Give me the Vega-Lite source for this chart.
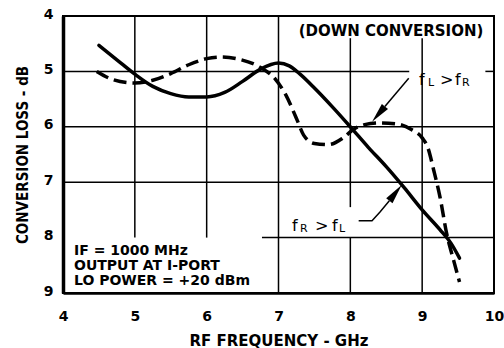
{
  "$schema": "https://vega.github.io/schema/vega-lite/v6.json",
  "width": 431,
  "height": 277,
  "autosize": "none",
  "padding": {"left": 63, "top": 16, "right": 10, "bottom": 55},
  "background": "white",
  "config": {
    "view": {"stroke": "black", "strokeWidth": 2},
    "font": "DejaVu Sans"
  },
  "datasets": {
    "grid": [
      {"x": 5, "x2": 5, "y": 4, "y2": 8},
      {"x": 6, "x2": 6, "y": 4, "y2": 8},
      {"x": 7, "x2": 7, "y": 4, "y2": 9},
      {"x": 8, "x2": 8, "y": 4.4, "y2": 7.45},
      {"x": 8, "x2": 8, "y": 8, "y2": 9},
      {"x": 9, "x2": 9, "y": 4.4, "y2": 9},
      {"x": 4, "x2": 8.82, "y": 5, "y2": 5},
      {"x": 9.88, "x2": 10, "y": 5, "y2": 5},
      {"x": 4, "x2": 10, "y": 6, "y2": 6},
      {"x": 4, "x2": 10, "y": 7, "y2": 7},
      {"x": 6.77, "x2": 10, "y": 8, "y2": 8}
    ],
    "curves": [
      {"series": "fR>fL", "f": 4.5, "loss": 4.53},
      {"series": "fR>fL", "f": 4.75, "loss": 4.79},
      {"series": "fR>fL", "f": 5.0, "loss": 5.05},
      {"series": "fR>fL", "f": 5.25, "loss": 5.27},
      {"series": "fR>fL", "f": 5.5, "loss": 5.4},
      {"series": "fR>fL", "f": 5.75, "loss": 5.46},
      {"series": "fR>fL", "f": 6.0, "loss": 5.46},
      {"series": "fR>fL", "f": 6.25, "loss": 5.38},
      {"series": "fR>fL", "f": 6.5, "loss": 5.18},
      {"series": "fR>fL", "f": 6.75, "loss": 4.96},
      {"series": "fR>fL", "f": 7.0, "loss": 4.85},
      {"series": "fR>fL", "f": 7.15, "loss": 4.9},
      {"series": "fR>fL", "f": 7.3, "loss": 5.05},
      {"series": "fR>fL", "f": 7.5, "loss": 5.3},
      {"series": "fR>fL", "f": 7.75, "loss": 5.64},
      {"series": "fR>fL", "f": 8.0, "loss": 6.0},
      {"series": "fR>fL", "f": 8.25, "loss": 6.37},
      {"series": "fR>fL", "f": 8.5, "loss": 6.72},
      {"series": "fR>fL", "f": 8.75, "loss": 7.1},
      {"series": "fR>fL", "f": 9.0, "loss": 7.5},
      {"series": "fR>fL", "f": 9.25, "loss": 7.86},
      {"series": "fR>fL", "f": 9.4, "loss": 8.1},
      {"series": "fR>fL", "f": 9.52, "loss": 8.37},
      {"series": "fL>fR", "f": 4.47, "loss": 5.0},
      {"series": "fL>fR", "f": 4.7, "loss": 5.15},
      {"series": "fL>fR", "f": 5.0, "loss": 5.21},
      {"series": "fL>fR", "f": 5.25, "loss": 5.16},
      {"series": "fL>fR", "f": 5.5, "loss": 5.04},
      {"series": "fL>fR", "f": 5.75, "loss": 4.88},
      {"series": "fL>fR", "f": 6.0, "loss": 4.77},
      {"series": "fL>fR", "f": 6.2, "loss": 4.74},
      {"series": "fL>fR", "f": 6.45, "loss": 4.78},
      {"series": "fL>fR", "f": 6.75, "loss": 4.93},
      {"series": "fL>fR", "f": 6.95, "loss": 5.13},
      {"series": "fL>fR", "f": 7.1, "loss": 5.42},
      {"series": "fL>fR", "f": 7.25, "loss": 5.85},
      {"series": "fL>fR", "f": 7.35, "loss": 6.15},
      {"series": "fL>fR", "f": 7.5, "loss": 6.3},
      {"series": "fL>fR", "f": 7.7, "loss": 6.32},
      {"series": "fL>fR", "f": 7.9, "loss": 6.2},
      {"series": "fL>fR", "f": 8.05, "loss": 6.04},
      {"series": "fL>fR", "f": 8.2, "loss": 5.96},
      {"series": "fL>fR", "f": 8.4, "loss": 5.93},
      {"series": "fL>fR", "f": 8.65, "loss": 5.95},
      {"series": "fL>fR", "f": 8.85, "loss": 6.05},
      {"series": "fL>fR", "f": 9.0, "loss": 6.2},
      {"series": "fL>fR", "f": 9.08, "loss": 6.38},
      {"series": "fL>fR", "f": 9.16, "loss": 6.78},
      {"series": "fL>fR", "f": 9.25, "loss": 7.28},
      {"series": "fL>fR", "f": 9.34, "loss": 7.92},
      {"series": "fL>fR", "f": 9.44, "loss": 8.42},
      {"series": "fL>fR", "f": 9.52, "loss": 8.8}
    ],
    "leaders": [
      {"id": "A", "o": 1, "x": 8.813, "y": 5.125},
      {"id": "A", "o": 2, "x": 8.481, "y": 5.632},
      {"id": "B", "o": 1, "x": 8.116, "y": 7.695},
      {"id": "B", "o": 2, "x": 8.302, "y": 7.695},
      {"id": "B", "o": 3, "x": 8.413, "y": 7.538},
      {"id": "B", "o": 4, "x": 8.543, "y": 7.334}
    ],
    "headA": [{"x": 8.392, "y": 5.771}],
    "headB": [{"x": 8.629, "y": 7.193}],
    "bigText": [
      {"t": "f", "x": 8.956, "y": 5.245},
      {"t": ">", "x": 9.248, "y": 5.245},
      {"t": "f", "x": 9.457, "y": 5.245},
      {"t": "f", "x": 7.188, "y": 7.881},
      {"t": ">", "x": 7.508, "y": 7.881},
      {"t": "f", "x": 7.745, "y": 7.881}
    ],
    "subText": [
      {"t": "L", "x": 9.081, "y": 5.264},
      {"t": "R", "x": 9.555, "y": 5.264},
      {"t": "R", "x": 7.299, "y": 7.89},
      {"t": "L", "x": 7.842, "y": 7.89}
    ],
    "boxText": [
      {"t": "IF = 1000 MHz", "x": 4.153, "y": 8.323},
      {"t": "OUTPUT AT I-PORT", "x": 4.153, "y": 8.59},
      {"t": "LO POWER = +20 dBm", "x": 4.153, "y": 8.86}
    ],
    "titleText": [
      {"t": "(DOWN CONVERSION)", "x": 8.566, "y": 4.361}
    ]
  },
  "layer": [
    {
      "data": {"name": "grid"},
      "mark": {"type": "rule", "color": "black", "strokeWidth": 1.5},
      "encoding": {
        "x": {
          "field": "x", "type": "quantitative",
          "scale": {"domain": [4, 10], "nice": false, "zero": false},
          "axis": {
            "values": [4, 5, 6, 7, 8, 9, 10], "format": "d",
            "grid": false, "ticks": false, "domain": true,
            "domainColor": "black", "domainWidth": 2.5,
            "labelFont": "DejaVu Sans", "labelFontWeight": "bold", "labelFontSize": 14,
            "labelColor": "black", "labelPadding": 16, "labelFlush": false,
            "title": "RF FREQUENCY - GHz",
            "titleFont": "DejaVu Sans", "titleFontWeight": "bold", "titleFontSize": 15,
            "titleColor": "black", "titlePadding": 10
          }
        },
        "x2": {"field": "x2"},
        "y": {
          "field": "y", "type": "quantitative",
          "scale": {"domain": [4, 9], "nice": false, "zero": false, "reverse": true},
          "axis": {
            "values": [4, 5, 6, 7, 8, 9], "format": "d",
            "grid": false, "ticks": false, "domain": true,
            "domainColor": "black", "domainWidth": 3.5,
            "labelFont": "DejaVu Sans", "labelFontWeight": "bold", "labelFontSize": 14,
            "labelColor": "black", "labelPadding": 10, "labelOffset": -2, "labelFlush": false,
            "title": "CONVERSION LOSS - dB",
            "titleFont": "Liberation Sans Narrow, DejaVu Sans Condensed, sans-serif",
            "titleFontWeight": "bold", "titleFontSize": 15,
            "titleColor": "black", "titlePadding": 13
          }
        },
        "y2": {"field": "y2"}
      }
    },
    {
      "data": {"name": "curves"},
      "transform": [{"filter": "datum.series === 'fR>fL'"}],
      "mark": {"type": "line", "color": "black", "strokeWidth": 3.5, "interpolate": "monotone", "strokeCap": "round"},
      "encoding": {
        "x": {"field": "f", "type": "quantitative"},
        "y": {"field": "loss", "type": "quantitative"}
      }
    },
    {
      "data": {"name": "curves"},
      "transform": [{"filter": "datum.series === 'fL>fR'"}],
      "mark": {"type": "line", "color": "black", "strokeWidth": 3.5, "interpolate": "monotone", "strokeDash": [13, 6], "strokeCap": "butt"},
      "encoding": {
        "x": {"field": "f", "type": "quantitative"},
        "y": {"field": "loss", "type": "quantitative"}
      }
    },
    {
      "data": {"name": "leaders"},
      "mark": {"type": "line", "color": "black", "strokeWidth": 1.5},
      "encoding": {
        "x": {"field": "x", "type": "quantitative"},
        "y": {"field": "y", "type": "quantitative"},
        "detail": {"field": "id"},
        "order": {"field": "o"}
      }
    },
    {
      "data": {"name": "headA"},
      "mark": {"type": "point", "shape": "M0,-1L0.4,1L-0.4,1Z", "filled": true, "color": "black", "opacity": 1, "size": 400, "angle": 220},
      "encoding": {
        "x": {"field": "x", "type": "quantitative"},
        "y": {"field": "y", "type": "quantitative"}
      }
    },
    {
      "data": {"name": "headB"},
      "mark": {"type": "point", "shape": "M0,-1L0.4,1L-0.4,1Z", "filled": true, "color": "black", "opacity": 1, "size": 400, "angle": 38},
      "encoding": {
        "x": {"field": "x", "type": "quantitative"},
        "y": {"field": "y", "type": "quantitative"}
      }
    },
    {
      "data": {"name": "bigText"},
      "mark": {"type": "text", "font": "DejaVu Sans", "fontSize": 16, "align": "left", "baseline": "alphabetic", "color": "black"},
      "encoding": {
        "x": {"field": "x", "type": "quantitative"},
        "y": {"field": "y", "type": "quantitative"},
        "text": {"field": "t"}
      }
    },
    {
      "data": {"name": "subText"},
      "mark": {"type": "text", "font": "DejaVu Sans", "fontSize": 11, "align": "left", "baseline": "alphabetic", "color": "black"},
      "encoding": {
        "x": {"field": "x", "type": "quantitative"},
        "y": {"field": "y", "type": "quantitative"},
        "text": {"field": "t"}
      }
    },
    {
      "data": {"name": "boxText"},
      "mark": {"type": "text", "font": "DejaVu Sans", "fontSize": 14, "fontWeight": "bold", "align": "left", "baseline": "alphabetic", "color": "black"},
      "encoding": {
        "x": {"field": "x", "type": "quantitative"},
        "y": {"field": "y", "type": "quantitative"},
        "text": {"field": "t"}
      }
    },
    {
      "data": {"name": "titleText"},
      "mark": {"type": "text", "font": "DejaVu Sans", "fontSize": 15, "fontWeight": "bold", "align": "center", "baseline": "alphabetic", "color": "black"},
      "encoding": {
        "x": {"field": "x", "type": "quantitative"},
        "y": {"field": "y", "type": "quantitative"},
        "text": {"field": "t"}
      }
    }
  ]
}
